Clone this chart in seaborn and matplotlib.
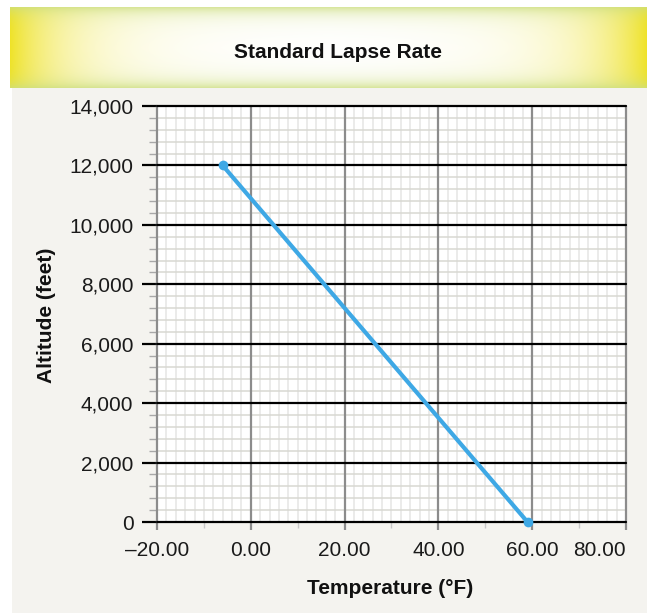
import numpy as np
import pandas as pd
import matplotlib
matplotlib.use("Agg")
import matplotlib.pyplot as plt
import seaborn as sns
from matplotlib.ticker import MultipleLocator, FuncFormatter
from matplotlib.patches import Rectangle

# -----------------------------
# Data
# -----------------------------
temperature = [-6, 59]        # °F
altitude = [12000, 0]         # feet

x_ticks = [-20, 0, 20, 40, 60, 80]
y_ticks = [0, 2000, 4000, 6000, 8000, 10000, 12000, 14000]

df = pd.DataFrame({"Temperature": temperature, "Altitude": altitude})

# -----------------------------
# Style
# -----------------------------
sns.set_theme(style="white")
plt.rcParams["font.family"] = ["Liberation Sans", "DejaVu Sans"]
plt.rcParams["axes.unicode_minus"] = False

W, H = 647, 614
fig = plt.figure(figsize=(W / 100, H / 100), dpi=100, facecolor="white")

# gray panel behind the chart
fig.patches.append(Rectangle((12 / W, 1 / H), 1 - 12 / W, (H - 89) / H,
                             transform=fig.transFigure, facecolor="#f4f3ef",
                             edgecolor="none", zorder=-5))

# header band with yellow gradient edges
hx0, hy0, hw, hh = 10, 7, W - 10, 81
hax = fig.add_axes([hx0 / W, 1 - (hy0 + hh) / H, hw / W, hh / H])
xx = np.arange(hw)
yy = np.arange(hh)
dx = np.minimum(xx, hw - 1 - xx)
dy = np.minimum(yy, hh - 1 - yy)
a = np.exp(-dx / 60.0)[None, :] * np.ones((hh, 1))
b = np.exp(-dy / 8.0)[:, None] * np.ones((1, hw))
white = np.array([1, 1, 1.0])
yellow = np.array([0.94, 0.89, 0.16])
green = np.array([0.80, 0.87, 0.50])
img = white * (1 - a[..., None]) + yellow * a[..., None]
img = img * (1 - 0.75 * b[..., None]) + green * 0.75 * b[..., None]
img = np.clip(img, 0, 1)
hax.imshow(img, aspect="auto", interpolation="bilinear")
hax.axis("off")
fig.text(338 / W, 1 - 52 / H, "Standard Lapse Rate", ha="center", va="center",
         fontsize=15, fontweight="bold", color="#111111")

# -----------------------------
# Main chart
# -----------------------------
ax = fig.add_axes([157 / W, 1 - 522 / H, (626 - 157) / W, (522 - 106) / H])
ax.set_zorder(2)
ax.set_facecolor("white")

# minor grid lines (light)
for v in np.arange(-20, 81, 2):
    ax.axvline(v, color="#e6e6e4", lw=1.1, zorder=0)
for v in np.arange(0, 14001, 400):
    ax.axhline(v, color="#d8d8d2", lw=1.1, zorder=0.5)

sns.lineplot(data=df, x="Temperature", y="Altitude", ax=ax, color="#3ea8e5",
             lw=3, marker="o", markersize=7, markeredgewidth=0, zorder=5,
             clip_on=False)

ax.set_xlim(-20, 80)
ax.set_ylim(0, 14000)
ax.set_xticks(x_ticks)
ax.set_yticks(y_ticks)
ax.xaxis.set_minor_locator(MultipleLocator(10))
ax.yaxis.set_minor_locator(MultipleLocator(400))
ax.xaxis.set_major_formatter(FuncFormatter(lambda v, p: f"{v:.2f}".replace("-", "\u2013")))
ax.yaxis.set_major_formatter(FuncFormatter(lambda v, p: f"{int(v):,}"))

for s in ax.spines.values():
    s.set_visible(False)

ax.grid(False)
for v in x_ticks:
    ax.axvline(v, color="#8c8c8c", lw=1.6, zorder=1, clip_on=False)
for v in y_ticks:
    ax.axhline(v, color="black", lw=1.6, zorder=2, clip_on=False)

ax.tick_params(axis="x", which="major", direction="out", length=6, width=1.6,
               color="#8c8c8c", labelsize=15, pad=8, bottom=True,
               labelcolor="#1a1a1a")
ax.tick_params(axis="x", which="minor", direction="out", length=4, width=1,
               color="#c8c8c8", bottom=True)
ax.tick_params(axis="y", which="major", direction="out", length=11, width=1.6,
               color="black", labelsize=15, pad=6, left=True,
               labelcolor="#1a1a1a")
ax.tick_params(axis="y", which="minor", direction="out", length=6, width=1,
               color="#a8a8a8", left=True)

# keep the last x label inside the figure
ax.get_xticklabels()[-1].set_horizontalalignment("right")

ax.set_xlabel("")
ax.set_ylabel("")
fig.text(390 / W, 1 - 589 / H, "Temperature (°F)", ha="center", va="center",
         fontsize=15, fontweight="bold", color="#111111")
fig.text(47 / W, 1 - 315 / H, "Altitude (feet)", ha="center", va="center",
         rotation=90, fontsize=15, fontweight="bold", color="#111111")

fig.savefig("out.png", dpi=100, facecolor="white")
